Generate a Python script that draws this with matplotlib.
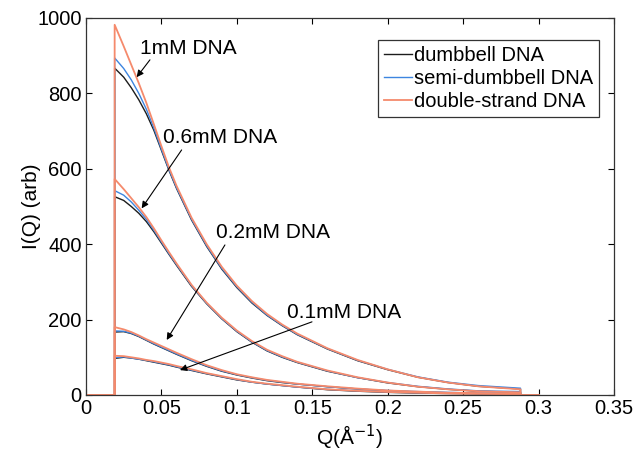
import matplotlib
matplotlib.use("Agg")
import matplotlib.pyplot as plt

plt.rcParams['font.family'] = ['Liberation Sans', 'DejaVu Sans']

q_grid = [0.019, 0.025, 0.03, 0.035, 0.04, 0.045, 0.05, 0.055, 0.06, 0.07, 0.08, 0.09,
          0.10, 0.11, 0.12, 0.13, 0.14, 0.16, 0.18, 0.20, 0.22, 0.24, 0.26, 0.288]
q_max = 0.30  # data arrays are zero-padded up to here

# 1mM
dumb_1 = [867, 843, 815, 783, 746, 702, 649, 596, 548, 464, 394, 334, 285, 244, 211, 184, 160, 122, 91, 67, 47, 33, 23, 16]
semi_1 = [894, 866, 836, 800, 758, 708, 652, 598, 550, 466, 396, 336, 287, 246, 212, 185, 161, 123, 92, 68, 48, 34, 25, 18]
ds_1 = [982, 925, 876, 827, 775, 718, 660, 604, 555, 470, 400, 340, 290, 249, 215, 187, 163, 124, 93, 68, 47, 33, 23, 15]
# 0.6mM
dumb_06 = [526, 516, 500, 482, 460, 433, 403, 373, 344, 288, 242, 202, 168, 140, 117, 100, 86, 63, 46, 32, 22, 15, 10, 7]
semi_06 = [542, 530, 512, 490, 466, 437, 406, 375, 346, 290, 243, 203, 169, 141, 118, 101, 87, 64, 46, 33, 23, 16, 11, 9]
ds_06 = [573, 546, 522, 498, 472, 442, 410, 379, 349, 292, 245, 205, 171, 143, 120, 103, 88, 65, 47, 33, 22, 15, 10, 7]
# 0.2mM
dumb_02 = [167, 168, 163, 155, 145, 135, 126, 117, 108, 91, 76, 63, 53, 45, 38, 33, 29, 22, 16, 11, 8, 6, 4, 3]
semi_02 = [170, 169, 164, 156, 146, 136, 127, 118, 109, 92, 77, 64, 54, 46, 39, 34, 29, 22, 16, 12, 9, 7, 5, 4]
ds_02 = [180, 174, 167, 158, 148, 139, 130, 121, 112, 95, 79, 66, 55, 47, 40, 35, 30, 23, 17, 12, 9, 6, 5, 3]
# 0.1mM
dumb_01 = [97, 100, 98, 95, 91, 87, 83, 79, 74, 65, 56, 48, 40, 34, 29, 25, 21, 14, 10, 7, 5, 4, 3, 2]
semi_01 = [99, 101, 98, 95, 92, 88, 84, 80, 75, 66, 57, 49, 41, 34, 29, 25, 21, 15, 11, 8, 6, 5, 4, 3]
ds_01 = [104, 103, 100, 97, 93, 90, 86, 82, 77, 68, 58, 50, 42, 35, 30, 26, 22, 15, 11, 8, 6, 4, 3, 2]

series_names = ['dumbbell DNA', 'semi-dumbbell DNA', 'double-strand DNA']
series_colors = ['#1c1c1c', '#3d85e0', '#f58a6c']
curves = [
    [dumb_1, dumb_06, dumb_02, dumb_01],
    [semi_1, semi_06, semi_02, semi_01],
    [ds_1, ds_06, ds_02, ds_01],
]

# (label, arrow tip, arrow start, text centre) in data coordinates
annotations = [
    ('1mM DNA', (0.0336, 843), (0.0424, 889), (0.0676, 920)),
    ('0.6mM DNA', (0.0369, 495), (0.0634, 650), (0.0888, 684)),
    ('0.2mM DNA', (0.0535, 146), (0.0921, 398), (0.1239, 432)),
    ('0.1mM DNA', (0.0623, 66), (0.1498, 194), (0.1710, 220)),
]

xticks = [0, 0.05, 0.1, 0.15, 0.2, 0.25, 0.3, 0.35]
xtick_labels = ['0', '0.05', '0.1', '0.15', '0.2', '0.25', '0.3', '0.35']
yticks = [0, 200, 400, 600, 800, 1000]


def padded(vals):
    # measured range only, zero outside of it
    q = [0.0, q_grid[0]] + q_grid + [q_grid[-1], q_max]
    y = [0, 0] + vals + [0, 0]
    return q, y


fig = plt.figure(figsize=(6.36, 4.61), dpi=100)
ax = fig.add_axes([0.1352, 0.1432, 0.8302, 0.8178])

for name, color, group in zip(series_names, series_colors, curves):
    lw = 1.3 if name.startswith('double') else 1.0
    for i, vals in enumerate(group):
        q, y = padded(vals)
        ax.plot(q, y, color=color, lw=lw, label=name if i == 0 else None)

for text, tip, start, pos in annotations:
    ax.annotate('', xy=tip, xytext=start,
                arrowprops=dict(arrowstyle='-|>', color='k', lw=0.8,
                                mutation_scale=10, shrinkA=0, shrinkB=0))
    ax.text(pos[0], pos[1], text, fontsize=15, ha='center', va='center')

ax.set_xlim(0, 0.35)
ax.set_ylim(0, 1000)
ax.set_xticks(xticks)
ax.set_xticklabels(xtick_labels)
ax.set_yticks(yticks)
ax.tick_params(direction='in', length=4, width=0.8, labelsize=14.5,
               top=True, right=True, pad=3)
for sp in ax.spines.values():
    sp.set_color('#333333')
    sp.set_linewidth(0.9)

ax.set_xlabel('Q(Å$^{-1}$)', fontsize=15, labelpad=3)
ax.set_ylabel('I(Q) (arb)', fontsize=15, labelpad=-3)

leg = ax.legend(loc='upper right', bbox_to_anchor=(0.9716, 0.9416), borderaxespad=0,
                fontsize=14.5, handlelength=1.4, handletextpad=0.1, labelspacing=0.2,
                borderpad=0.3, fancybox=False, framealpha=1, edgecolor='#333333')
leg.get_frame().set_linewidth(0.9)

fig.savefig('out.png', dpi=100)
